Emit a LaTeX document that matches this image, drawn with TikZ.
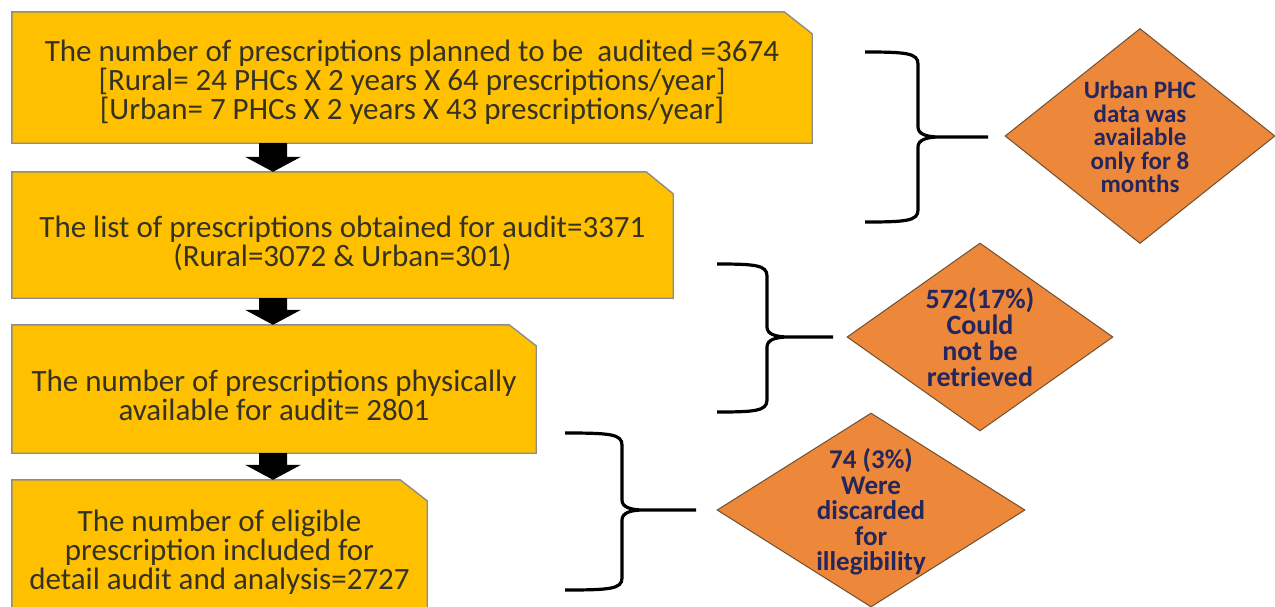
\documentclass[tikz,border=0pt]{standalone}
\usepackage{fontspec}
\setmainfont{Carlito}
\usetikzlibrary{shapes.geometric,calc,backgrounds}
\definecolor{boxfill}{RGB}{255,192,0}
\definecolor{boxline}{RGB}{140,140,140}
\definecolor{boxtxt}{RGB}{52,50,36}
\definecolor{dfill}{RGB}{237,135,58}
\definecolor{dline}{RGB}{110,80,50}
\definecolor{dtxt}{RGB}{36,38,92}
\newcommand\curlybrace[6]{%
\draw[bracestyle] (#1,#3) .. controls (#2-12,#3) and (#2,#3+1) .. (#2,#3+12) -- (#2,#4-10) .. controls (#2,#4-3) and (#2+8,#4) .. (#2+22,#4) -- (#6,#4)
 (#2+22,#4) .. controls (#2+8,#4) and (#2,#4+3) .. (#2,#4+10) -- (#2,#5-12) .. controls (#2,#5-1) and (#2-12,#5) .. (#1,#5);}
\newcommand\blkarrow[2]{%
\fill[blockarrow] (#2 -| ax) -- ++(28,-15) -- ++(-14,0) -- ($(#1 -| ax)+(14,0)$) -- ($(#1 -| ax)+(-14,0)$) -- ($(#2 -| ax)+(-14,-15)$) -- ++(-14,0) -- cycle;}
\begin{document}
\begin{tikzpicture}[x=1pt,y=-1pt,
  boxarea/.style={rectangle, inner sep=0pt},
  boxtext/.style={align=center, inner sep=0pt, text=boxtxt, font=\fontsize{31}{29}\selectfont},
  boxshape/.style={fill=boxfill, draw=boxline, line width=1.4pt},
  dia/.style={diamond, inner sep=0pt, fill=dfill, draw=dline, line width=1pt},
  dtext/.style={align=center, text=dtxt, inner sep=0pt},
  bracestyle/.style={draw=black, line width=3.2pt},
  blockarrow/.style={fill=black}]
\useasboundingbox (0,0) rectangle (1275,606);
\coordinate (ax) at (273,0);
% box areas
\node[boxarea, minimum width=800pt, minimum height=131pt] (b1) at (412,77.5) {};
\node[boxarea, minimum width=661pt, minimum height=126pt] (b2) at (342.5,235) {};
\node[boxarea, minimum width=524pt, minimum height=128pt] (b3) at (274,389) {};
\node[boxarea, minimum width=415pt, minimum height=142pt] (b4) at (219.5,551) {};
\foreach \b/\cx/\cy in {b1/28/22, b2/27/22, b3/27/21, b4/27/21}{
  \draw[boxshape] (\b.north west) -- ($(\b.north east)+(-\cx,0)$) -- ($(\b.north east)+(0,\cy)$) -- (\b.south east) -- (\b.south west) -- cycle;
}
% box texts
\node[boxtext] (t-b1) at ($(b1.center)+(0,5)$)
  {The number of prescriptions planned to be~ audited =3674\\ {[}Rural= 24 PHCs X 2 years X 64 prescriptions/year{]}\\ {[}Urban= 7 PHCs X 2 years X 43 prescriptions/year{]}};
\node[boxtext] (t-b2) at ($(b2.center)+(0,8)$)
  {The list of prescriptions obtained for audit=3371\\ (Rural=3072 \& Urban=301)};
\node[boxtext] (t-b3) at ($(b3.center)+(0,6)$)
  {The number of prescriptions physically\\ available for audit= 2801};
\node[boxtext] (t-b4) at ($(b4.center)+(0,1)$)
  {The number of eligible\\ prescription included for\\ detail audit and analysis=2727};
% block arrows
\blkarrow{b1.south}{b2.north}
\blkarrow{b2.south}{b3.north}
\blkarrow{b3.south}{b4.north}
% diamonds
\node[dia, minimum width=270pt, minimum height=215pt] (d1) at (1140,136) {};
\node[dtext, font=\bfseries\fontsize{25}{23.5}\selectfont] (t1) at ($(d1.center)+(0,1)$) {Urban PHC\\ data was\\ available\\ only for 8\\ months};
\node[dia, minimum width=266pt, minimum height=188pt] (d2) at (980,337) {};
\node[dtext, font=\bfseries\fontsize{28}{26}\selectfont] (t2) at (d2.center) {572(17\%)\\ Could\\ not be\\ retrieved};
\node[dia, minimum width=308pt, minimum height=194pt] (d3) at (871,510) {};
\node[dtext, font=\bfseries\fontsize{27}{25.5}\selectfont] (t3) at ($(d3.center)+(0,2)$) {74 (3\%)\\ Were\\ discarded\\ for\\ illegibility};
% braces
\curlybrace{865}{918}{52}{137}{222}{988}
\curlybrace{717}{767}{264}{337}{412}{833}
\curlybrace{565}{622}{433}{510}{590}{696}
\end{tikzpicture}
\end{document}
